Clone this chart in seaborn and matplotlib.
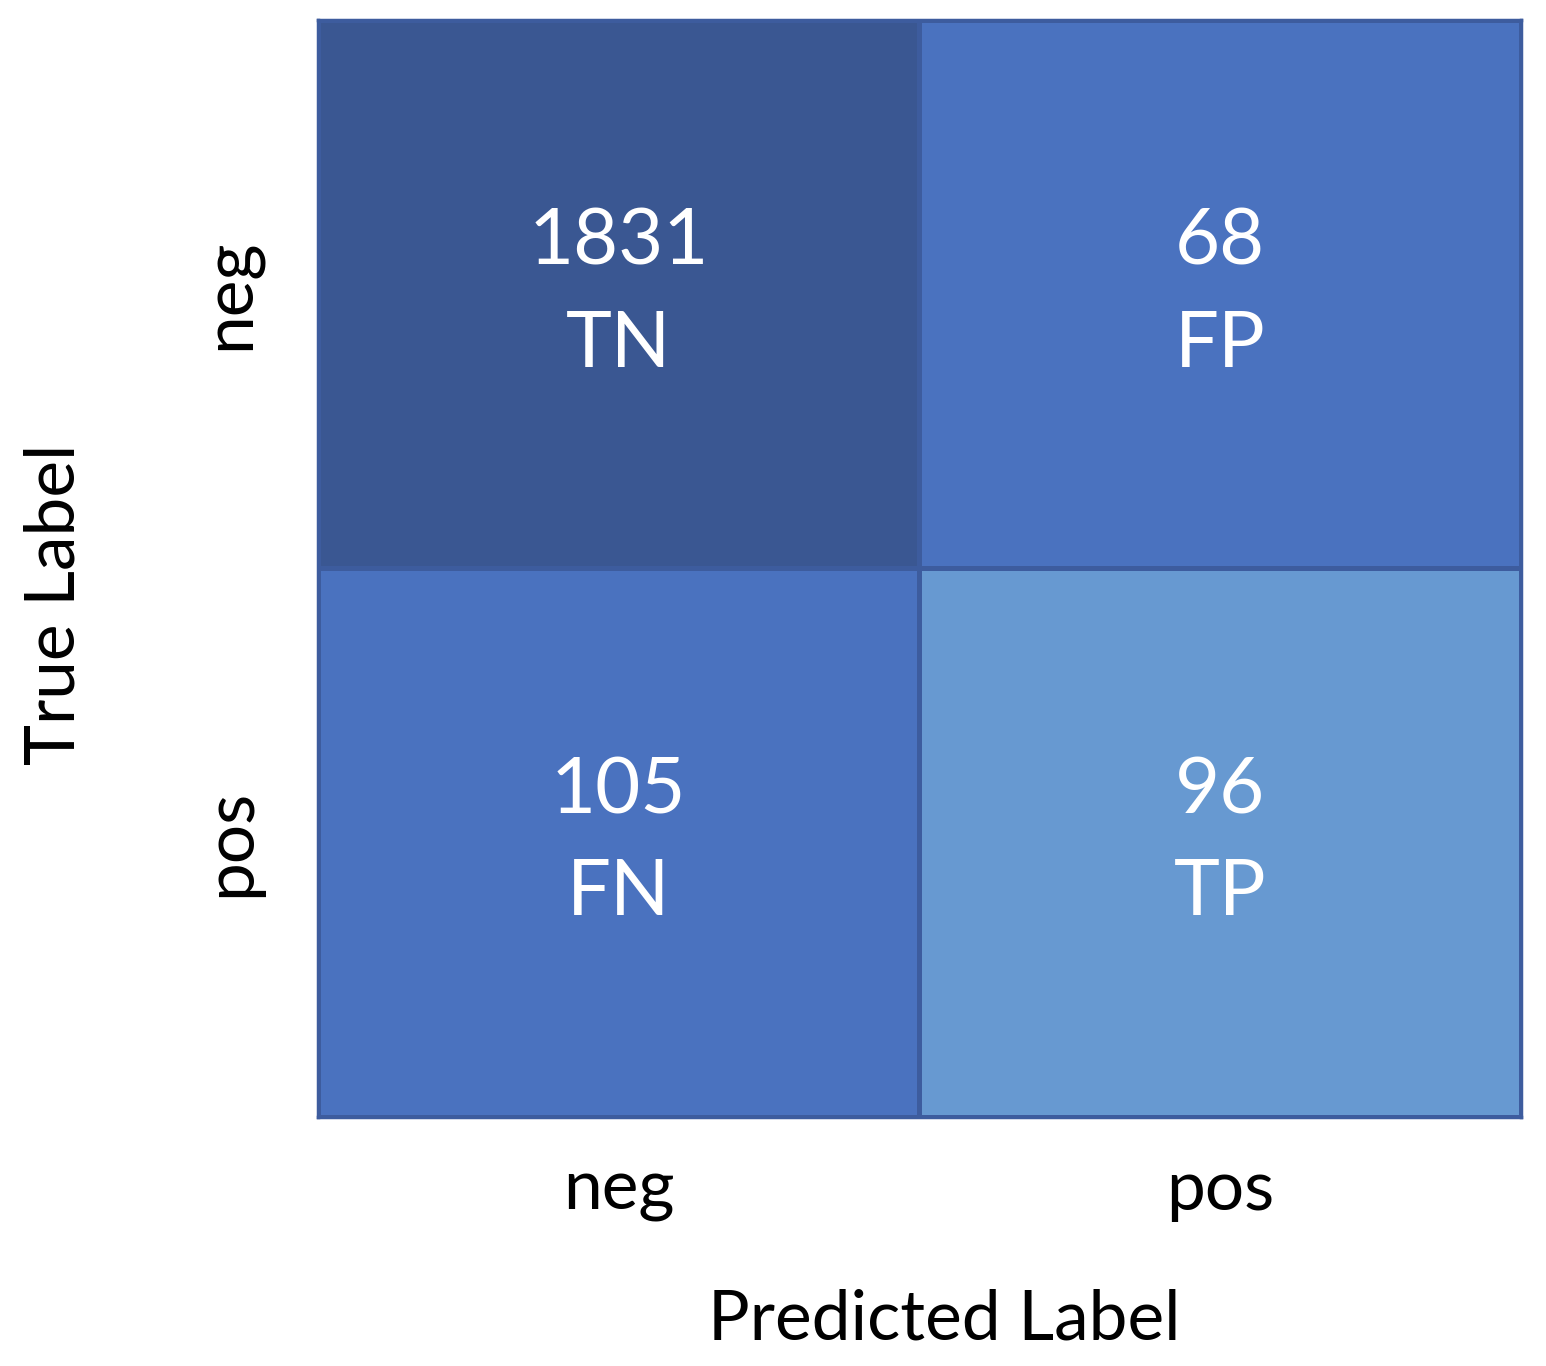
import matplotlib
matplotlib.use("Agg")
import matplotlib.pyplot as plt
from matplotlib.colors import ListedColormap
import seaborn as sns
import numpy as np
import pandas as pd

# Data
true_labels = ["neg", "pos"]
pred_labels = ["neg", "pos"]
counts = [[1831, 68],
          [105, 96]]
cell_names = [["TN", "FP"],
              ["FN", "TP"]]
# shade level of each cell as drawn in the reference (0 = dark, 1 = medium, 2 = light)
shade_levels = [[0, 1],
                [1, 2]]
shade_colors = ["#3a5792", "#4a72bf", "#6799d1"]

sns.set_theme(style="white")
plt.rcParams['font.family'] = ['Lato', 'DejaVu Sans']

df_shade = pd.DataFrame(shade_levels, index=true_labels, columns=pred_labels)
annot = np.array([[f"{counts[i][j]}\n{cell_names[i][j]}" for j in range(2)] for i in range(2)])

fig = plt.figure(figsize=(15.46, 13.66), dpi=100)
ax = fig.add_axes([0.2057, 0.1823, 0.7781, 0.8031])

sns.heatmap(df_shade, ax=ax, cmap=ListedColormap(shade_colors), vmin=-0.5, vmax=2.5,
            cbar=False, annot=annot, fmt="",
            annot_kws={"fontsize": 56, "color": "white", "linespacing": 1.55},
            linewidths=2.5, linecolor="#3d5c9e")

for s in ax.spines.values():
    s.set_visible(True)
    s.set_color("#3d5c9e")
    s.set_linewidth(2.5)

ax.set_xlabel("Predicted Label", fontsize=50, color="black")
ax.set_ylabel("True Label", fontsize=50, color="black")
ax.xaxis.set_label_coords(0.521, -0.185)
ax.xaxis.label.set_va("center")
ax.yaxis.set_label_coords(-0.2186, 0.467)
ax.yaxis.label.set_va("center")
ax.yaxis.label.set_ha("center")
ax.tick_params(axis="x", length=0, pad=30, labelsize=50, labelcolor="black")
ax.tick_params(axis="y", length=0, pad=40, labelsize=50, labelcolor="black")
ax.set_yticklabels(true_labels, rotation=90, va="center")
ax.set_xticklabels(pred_labels, rotation=0)

fig.savefig("out.png", dpi=100, facecolor="white")
